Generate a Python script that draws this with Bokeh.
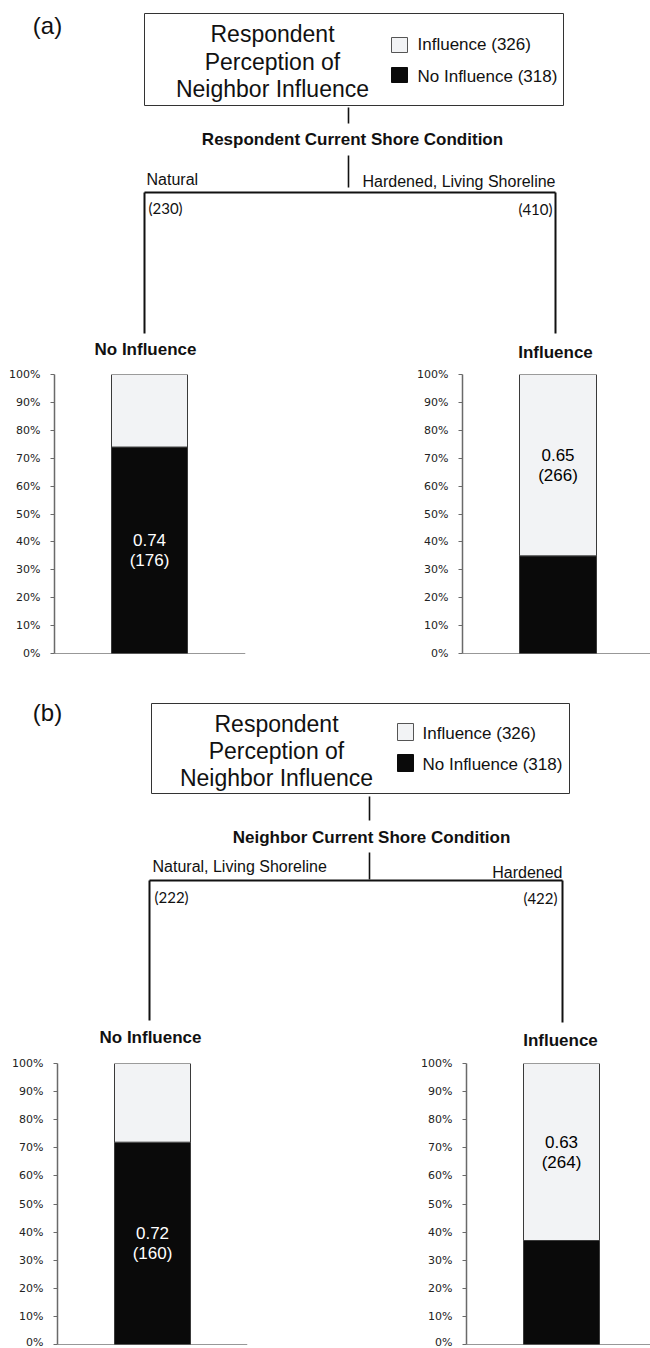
from bokeh.plotting import figure
from bokeh.models import Range1d, Span, NumeralTickFormatter, FixedTicker, ColumnDataSource
from bokeh.layouts import column, row
from bokeh.embed import file_html
from bokeh.resources import INLINE
from bokeh.core.properties import value

# ---------------- data ----------------
panel_labels = ["(a)", "(b)"]
box_title = ["Respondent", "Perception of", "Neighbor Influence"]
legend_labels = ["Influence", "No Influence"]
legend_counts = [326, 318]
split_titles = ["Respondent Current Shore Condition", "Neighbor Current Shore Condition"]

a_groups = ["Natural", "Hardened, Living Shoreline"]
a_group_n = [230, 410]
a_nodes = ["No Influence", "Influence"]
a_no_influence = [0.74, 0.35]
a_influence = [0.26, 0.65]
a_node_n = [176, 266]

b_groups = ["Natural, Living Shoreline", "Hardened"]
b_group_n = [222, 422]
b_nodes = ["No Influence", "Influence"]
b_no_influence = [0.72, 0.37]
b_influence = [0.28, 0.63]
b_node_n = [160, 264]

pct_ticks = [0, 0.1, 0.2, 0.3, 0.4, 0.5, 0.6, 0.7, 0.8, 0.9, 1.0]

# ---------------- style ----------------
LIGHT = "#f2f3f5"
DARK = "#0a0a0a"
FONT = value("Liberation Sans")
NFONT = value("Lato")
TXT = "#111111"
PAGE_W = 650

# page-coordinate layouts for the tree diagrams
LA = dict(top=0, bottom=362, panel=(47, 25), box=(144, 563, 13, 105), box_cx=272,
          box_lines=[33, 61, 88], sq_x=(391, 407), sq_y=[(37, 52), (67, 82)],
          leg_tx=417, leg_ty=[44, 76], conn=(348, 107, 123), split=(352, 139),
          stem=(348, 155, 187), grp=[(146, 179, "left"), (362, 181, "left")],
          br_y=192, br_x=(144, 555), leg_end=(333, 333),
          nlab=[(148, 207, "left"), (552, 208, "right")], node=[(145, 349), (555, 352)])
LB = dict(top=680, bottom=1052, panel=(47, 712), box=(151, 569, 703, 793), box_cx=276,
          box_lines=[723, 750, 777], sq_x=(397, 413), sq_y=[(723, 740), (754, 771)],
          leg_tx=422, leg_ty=[733, 764], conn=(369, 796, 820), split=(371, 837),
          stem=(369, 852, 879), grp=[(152, 866, "left"), (562, 872, "right")],
          br_y=880, br_x=(149, 562), leg_end=(1020, 1022),
          nlab=[(154, 896, "left"), (557, 897, "right")], node=[(150, 1037), (560, 1040)])


def tree_fig(L, panel, split_title, groups, group_n, nodes):
    p = figure(width=PAGE_W, height=L["bottom"] - L["top"], x_range=Range1d(0, PAGE_W),
               y_range=Range1d(L["bottom"], L["top"]), output_backend="svg",
               toolbar_location=None, x_axis_location=None, y_axis_location=None,
               min_border=0)
    p.grid.visible = False
    p.outline_line_color = None
    p.text(x=[L["panel"][0]], y=[L["panel"][1]], text=[panel], text_font=FONT,
           text_font_size="24px", text_align="center", text_baseline="middle", text_color=TXT)
    bl, br, bt, bb = L["box"]
    p.quad(left=[bl], right=[br], top=[bt], bottom=[bb], fill_color="white",
           line_color="#333333", line_width=1)
    p.text(x=[L["box_cx"]] * 3, y=L["box_lines"], text=box_title, text_font=FONT,
           text_font_size="23px", text_align="center", text_baseline="middle", text_color=TXT)
    sx0, sx1 = L["sq_x"]
    p.quad(left=[sx0, sx0], right=[sx1, sx1], top=[L["sq_y"][0][0], L["sq_y"][1][0]],
           bottom=[L["sq_y"][0][1], L["sq_y"][1][1]], fill_color=[LIGHT, DARK],
           line_color=["#555555", DARK], line_width=1)
    p.text(x=[L["leg_tx"]] * 2, y=L["leg_ty"],
           text=[f"{lab} ({n})" for lab, n in zip(legend_labels, legend_counts)],
           text_font=FONT, text_font_size="17px", text_align="left", text_baseline="middle",
           text_color=TXT)
    cx, c0, c1 = L["conn"]
    sx, s0, s1 = L["stem"]
    p.segment(x0=[cx, sx], y0=[c0, s0], x1=[cx, sx], y1=[c1, s1], line_color="#111111",
              line_width=1.6)
    p.text(x=[L["split"][0]], y=[L["split"][1]], text=[split_title], text_font=FONT,
           text_font_style="bold", text_font_size="17px", text_align="center",
           text_baseline="middle", text_color=TXT)
    for (gx, gy, al), g in zip(L["grp"], groups):
        p.text(x=[gx], y=[gy], text=[g], text_font=FONT, text_font_size="16px",
               text_align=al, text_baseline="middle", text_color=TXT)
    xl, xr = L["br_x"]
    yb = L["br_y"]
    p.segment(x0=[xl, xl, xr], y0=[yb, yb, yb], x1=[xr, xl, xr],
              y1=[yb, L["leg_end"][0], L["leg_end"][1]], line_color="#111111", line_width=2)
    for (nx, ny, al), n in zip(L["nlab"], group_n):
        p.text(x=[nx], y=[ny], text=[f"({n})"], text_font=NFONT, text_font_size="15px",
               text_align=al, text_baseline="middle", text_color=TXT)
    for (tx, ty), nd in zip(L["node"], nodes):
        p.text(x=[tx], y=[ty], text=[nd], text_font=FONT, text_font_style="bold",
               text_font_size="17px", text_align="center", text_baseline="middle",
               text_color=TXT)
    return p


def bar_fig(fig_box, axis_x, frame_r, bar_lr, y100, y0, no_inf, inf, node, node_n):
    fl, fr, ft, fb = fig_box
    fw = frame_r - axis_x
    c = (bar_lr[0] + bar_lr[1]) / 2
    xr = Range1d(-(c - axis_x) / fw, (frame_r - c) / fw)
    bw = (bar_lr[1] - bar_lr[0]) / fw
    p = figure(width=fr - fl, height=fb - ft, x_range=xr, y_range=Range1d(0, 1),
               output_backend="svg", toolbar_location=None, x_axis_location=None,
               min_border_left=axis_x - fl, min_border_right=fr - frame_r,
               min_border_top=y100 - ft, min_border_bottom=fb - y0)
    p.grid.visible = False
    p.outline_line_color = None
    src = ColumnDataSource(dict(x=[0], No_Influence=[no_inf], Influence=[inf]))
    p.vbar_stack(["No_Influence", "Influence"], x="x", width=bw, source=src,
                 fill_color=[DARK, LIGHT], line_color="#3a3a3a", line_width=1)
    ax = p.yaxis[0]
    ax.ticker = FixedTicker(ticks=pct_ticks)
    ax.formatter = NumeralTickFormatter(format="0%")
    ax.axis_line_color = "#6a6a6a"
    ax.axis_line_width = 1.5
    ax.major_tick_line_color = "#6a6a6a"
    ax.major_tick_in = 0
    ax.major_tick_out = 4
    ax.minor_tick_line_color = None
    ax.major_label_standoff = 10
    ax.major_label_text_font = "DejaVu Sans"
    ax.major_label_text_font_size = "11px"
    ax.major_label_text_color = "#222222"
    p.add_layout(Span(location=0, dimension="width", line_color="#333333", line_width=1.2))
    if node == "No Influence":
        share, mid, col = no_inf, no_inf / 2, "white"
    else:
        share, mid, col = inf, no_inf + inf / 2, "black"
    p.text(x=[0], y=[mid], text=[f"{share:.2f}"], y_offset=-10, text_font=FONT,
           text_font_size="17px", text_align="center", text_baseline="middle", text_color=col)
    p.text(x=[0], y=[mid], text=[f"({node_n})"], y_offset=10, text_font=FONT,
           text_font_size="17px", text_align="center", text_baseline="middle", text_color=col)
    return p


tree_a = tree_fig(LA, panel_labels[0], split_titles[0], a_groups, a_group_n, a_nodes)
bar_al = bar_fig((0, 258, 362, 680), 54, 245, (111, 187), 372, 653,
                 a_no_influence[0], a_influence[0], a_nodes[0], a_node_n[0])
bar_ar = bar_fig((258, PAGE_W, 362, 680), 462, PAGE_W, (519, 596), 374, 655,
                 a_no_influence[1], a_influence[1], a_nodes[1], a_node_n[1])
tree_b = tree_fig(LB, panel_labels[1], split_titles[1], b_groups, b_group_n, b_nodes)
bar_bl = bar_fig((0, 260, 1052, 1348), 57, 247, (114, 190), 1063, 1344,
                 b_no_influence[0], b_influence[0], b_nodes[0], b_node_n[0])
bar_br = bar_fig((260, PAGE_W, 1052, 1348), 466, PAGE_W, (523, 599), 1063, 1344,
                 b_no_influence[1], b_influence[1], b_nodes[1], b_node_n[1])

layout = column(tree_a, row(bar_al, bar_ar, spacing=0), tree_b, row(bar_bl, bar_br, spacing=0),
                spacing=0)

open("out.html", "w").write(file_html(layout, INLINE))
